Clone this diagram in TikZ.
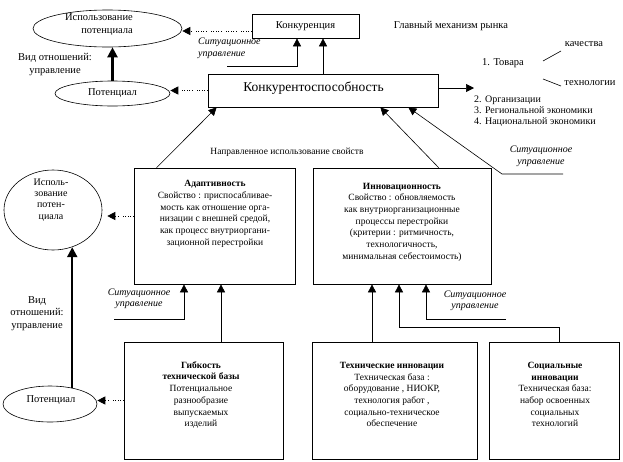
\documentclass[tikz,border=0pt]{standalone}
\usepackage{fontspec}
\setmainfont{Liberation Serif}
\usetikzlibrary{arrows.meta,shapes.geometric}
\begin{document}
\begin{tikzpicture}[x=1pt,y=-1pt,
  box/.style={draw,line width=0.7pt,inner sep=0pt},
  oval/.style={draw,ellipse,line width=0.6pt,inner sep=0pt},
  btxt/.style={font=\fontsize{9.5}{11.7}\selectfont,align=center,inner sep=0pt},
  ltxt/.style={font=\fontsize{10.5}{12.8}\selectfont,align=center,inner sep=0pt},
  itxt/.style={font=\fontsize{10}{11.5}\selectfont\itshape,align=center,inner sep=0pt},
  arr/.style={line width=0.7pt,-{Triangle[length=8pt,width=8pt]}},
  dotarr/.style={arr,dash pattern=on 1pt off 1.5pt on 1pt off 1.5pt on 1pt off 1.5pt on 1pt off 1.5pt on 1pt off 4pt},
  bigarr/.style={line width=2.2pt,-{Triangle[length=10pt,width=10pt]}},
  thinline/.style={line width=0.6pt}
]
\useasboundingbox (0,0) rectangle (623,461);

% boxes
\node[box,minimum width=107pt,minimum height=24pt,ltxt] (konk) at (305.5,26) {Конкуренция};
\node[box,minimum width=230pt,minimum height=33pt] (ks) at (323,90.5) {};
\node[font=\fontsize{13.5}{15}\selectfont,inner sep=0pt] (ksT) at (313.5,88) {Конкурентоспособность};
\node[box,minimum width=161pt,minimum height=116pt] (adapt) at (214.5,226) {};
\node[box,minimum width=178pt,minimum height=116pt] (innov) at (402,226) {};
\node[box,minimum width=159pt,minimum height=117pt] (gib) at (203.5,400.5) {};
\node[box,minimum width=165pt,minimum height=117pt] (tech) at (394.5,400.5) {};
\node[box,minimum width=130pt,minimum height=117pt] (soc) at (554,400.5) {};

% ellipses
\node[oval,minimum width=149pt,minimum height=37pt] (ellTop) at (107.5,28.5) {};
\node[ltxt,align=right,anchor=east] (ellTopT) at (133,24.5) {Использование\\потенциала};
\node[oval,minimum width=115pt,minimum height=25pt,ltxt] (ellPot1) at (112.5,93.5) {Потенциал};
\node[oval,minimum width=98pt,minimum height=80pt] (circ) at (53,210) {};
\node[ltxt,font=\fontsize{10}{11.3}\selectfont] (circT) at (51,200) {Исполь-\\зование\\потен-\\циала};
\node[oval,minimum width=94pt,minimum height=36pt] (ellPot2) at (50,404) {};
\node[ltxt] (ellPot2T) at (51,400) {Потенциал};

% box texts
\node[btxt] (adaptT) at (215,214) {\textbf{Адаптивность}\\Свойство : приспосабливае-\\мость как отношение орга-\\низации с внешней средой,\\как процесс внутриоргани-\\зационной перестройки};
\node[btxt] (innovT) at (402,222) {\textbf{Инновационность}\\Свойство : обновляемость\\как внутриорганизационные\\процессы перестройки\\(критерии : ритмичность,\\технологичность,\\минимальная себестоимость)};
\node[btxt] (gibT) at (201,395) {\textbf{Гибкость}\\\textbf{технической базы}\\Потенциальное\\разнообразие\\выпускаемых\\изделий};
\node[btxt] (techT) at (392,394.5) {\textbf{Технические инновации}\\Техническая база :\\оборудование , НИОКР,\\технология работ ,\\социально-техническое\\обеспечение};
\node[btxt] (socT) at (555,394.5) {\textbf{Социальные}\\\textbf{инновации}\\Техническая база:\\набор освоенных\\социальных\\технологий};

% labels
\node[ltxt] (main) at (451,26) {Главный механизм рынка};
\node[ltxt] (tov) at (503,63) {1. Товара};
\node[ltxt] (kach) at (584,44) {качества};
\node[ltxt] (tehn) at (590,83) {технологии};
\node[ltxt,font=\fontsize{10}{11.2}\selectfont,align=left,anchor=west] (list) at (474,111) {2. Организации\\3. Региональной экономики\\4. Национальной экономики};
\node[btxt] (napr) at (287,152) {Направленное использование свойств};
\node[ltxt] (vid1) at (55,64.5) {Вид отношений:\\управление};
\node[ltxt] (vid2) at (37,313.5) {Вид\\отношений:\\управление};
\node[itxt,align=left,anchor=west] (sit1) at (198,48.5) {Ситуационное\\управление};
\node[itxt] (sit2) at (541,156.5) {Ситуационное\\управление};
\node[itxt] (sit3) at (139,299) {Ситуационное\\управление};
\node[itxt] (sit4) at (475,301) {Ситуационное\\управление};

% free ends
\coordinate (s1) at (227,66);
\coordinate (s2) at (563,174);
\coordinate (s2b) at (502,174);
\coordinate (s3) at (114,319);
\coordinate (s4) at (506,319);
\coordinate (listA) at (474,88);
\coordinate (t1) at (543,61);
\coordinate (t2) at (561,51);
\coordinate (t3) at (543,79);
\coordinate (t4) at (561,86);

% connectors
\coordinate (k1) at ([yshift=-5pt]konk.west);
\draw[dotarr] (k1) -- (k1 -| ellTop.east);
\draw[arr] (s1) -| ([xshift=-8.5pt]konk.south);
\draw[arr] (ks.north) -- (ks.north |- konk.south);
\draw[arr] (ks.east |- listA) -- (listA);
\draw[dotarr] (ks.west) -- (ks.west -| ellPot1.east);
\draw[bigarr] (ellPot1.north) -- (ellPot1.north |- ellTop.south);
\draw[arr,thinline] ([xshift=23pt]adapt.north west) -- ([xshift=9pt]ks.south west);
\draw[arr,thinline] ([xshift=126pt]innov.north west) -- ([xshift=-58pt]ks.south east);
\draw[arr,thinline] (s2) -- (s2b) -- ([xshift=-30pt]ks.south east);
\coordinate (a1) at ([yshift=10pt]adapt.west);
\draw[dotarr] (a1) -- ([xshift=5pt]a1 -| circ.east);
\draw[bigarr] (ellPot2.36) -- (ellPot2.36 |- circ.-63);
\draw[dotarr] (gib.west) -- (gib.west -| ellPot2.east);
\draw[arr] (s3) -| ([xshift=-30.5pt]adapt.south);
\draw[arr] ([xshift=17.5pt]gib.north) -- ([xshift=17.5pt]gib.north |- adapt.south);
\draw[arr] ([xshift=-22.5pt]tech.north) -- ([xshift=-22.5pt]tech.north |- innov.south);
\draw[arr] ([xshift=5pt]soc.north) -- ++(0,-14) -| ([xshift=-3pt]innov.south);
\draw[arr] (s4) -| ([xshift=24pt]innov.south);
\draw[thinline] (t1) -- (t2);
\draw[thinline] (t3) -- (t4);
\end{tikzpicture}
\end{document}
